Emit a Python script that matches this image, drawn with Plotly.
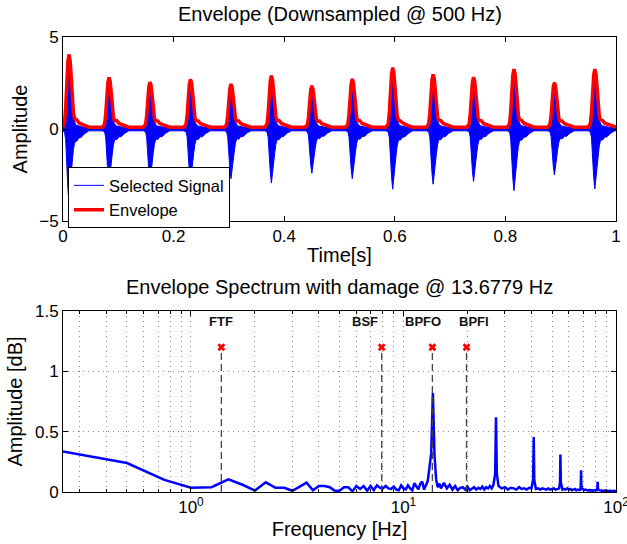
import numpy as np
import plotly.graph_objects as go

# ---------------- time-domain data ----------------
# impulse (burst) centres [s] and their amplitudes
burst_t = [0.0108, 0.0832, 0.1573, 0.2305, 0.3038, 0.3769, 0.4500,
           0.5231, 0.5962, 0.6693, 0.7424, 0.8155, 0.8886, 0.9617]
env_peak = [4.05, 2.80, 2.55, 2.70, 2.45, 2.90, 2.35,
            2.72, 3.33, 2.97, 2.82, 3.25, 2.52, 3.25]
sig_neg_peak = [-4.00, -3.00, -2.90, -2.90, -2.70, -2.93, -2.40,
                -2.70, -3.27, -3.00, -2.85, -3.35, -2.50, -3.26]

# burst profile around each impulse (time offset [s], relative level)
prof_t = [-0.012, -0.008, -0.006, -0.004, -0.002, 0.000, 0.002, 0.004, 0.006,
          0.008, 0.010, 0.012, 0.014, 0.018, 0.022, 0.028, 0.036]
env_frac = [0.00, 0.06, 0.26, 0.60, 0.90, 1.00, 0.92, 0.70, 0.40,
            0.18, 0.09, 0.05, 0.04, 0.03, 0.02, 0.01, 0.00]
env_tail = [0.00, 0.00, 0.00, 0.00, 0.00, 0.00, 0.00, 0.00, 0.00,
            0.05, 0.12, 0.20, 0.24, 0.12, 0.10, 0.05, 0.00]
up_frac = [0.00, 0.00, 0.10, 0.40, 0.80, 1.00, 0.80, 0.50, 0.25,
           0.12, 0.06, 0.04, 0.03, 0.02, 0.01, 0.00, 0.00]
down_frac = [0.00, 0.02, 0.12, 0.38, 0.80, 1.00, 0.85, 0.62, 0.42,
             0.26, 0.16, 0.11, 0.08, 0.06, 0.04, 0.02, 0.00]
down_tail = [0.00, 0.00, 0.00, 0.00, 0.00, 0.00, 0.00, 0.00, 0.00,
             0.00, 0.05, 0.15, 0.25, 0.15, 0.20, 0.08, 0.00]
env_floor = 0.10
sig_floor_up = 0.08
sig_floor_down = 0.10

# ---------------- envelope spectrum data ----------------
# 0.25 Hz bins from 0.25 to 15 Hz
low_amp = [0.335, 0.24, 0.10, 0.035, 0.04, 0.105, 0.06, 0.012, 0.08, 0.035,
           0.035, 0.01, 0.045, 0.078, 0.015, 0.05, 0.05, 0.04, 0.01, 0.01,
           0.04, 0.04, 0.005, 0.05, 0.025, 0.05, 0.01, 0.05, 0.015, 0.055,
           0.035, 0.03, 0.05, 0.03, 0.025, 0.045, 0.02, 0.015, 0.055, 0.03,
           0.022, 0.055, 0.03, 0.014, 0.072, 0.04, 0.022, 0.07, 0.086, 0.02,
           0.05, 0.09, 0.20, 0.32, 0.82, 0.30, 0.10, 0.04, 0.07, 0.03]
# 0.5 Hz steps from 15.5 to 26.5 Hz
mid_amp = [0.075, 0.03, 0.06, 0.02, 0.05, 0.015, 0.035, 0.04, 0.02, 0.045,
           0.015, 0.03, 0.04, 0.02, 0.035, 0.025, 0.045, 0.02, 0.04, 0.03,
           0.05, 0.03, 0.06]
# 1 Hz steps from 28 to 100 Hz
high_amp = [0.05, 0.03, 0.04, 0.02, 0.035, 0.03, 0.02, 0.04, 0.025, 0.03, 0.02, 0.035, 0.03,
            0.03, 0.025, 0.03, 0.02, 0.03, 0.025, 0.02, 0.03, 0.02, 0.025, 0.03, 0.02, 0.025,
            0.03, 0.04, 0.02, 0.025, 0.02, 0.03, 0.02, 0.025, 0.015, 0.02, 0.025, 0.015, 0.02,
            0.015, 0.02, 0.03, 0.02, 0.015, 0.02, 0.015, 0.012, 0.018, 0.012, 0.015, 0.01, 0.015,
            0.012, 0.015, 0.02, 0.015, 0.01, 0.012, 0.01, 0.012, 0.008, 0.01, 0.012, 0.008, 0.01,
            0.008, 0.01, 0.007, 0.009, 0.008, 0.01, 0.007, 0.008]
# BPFO harmonics (2x..6x)
harm_freq = [27.25, 41.0, 54.75, 68.5, 82.0]
harm_amp = [0.62, 0.455, 0.31, 0.18, 0.085]
harm_base = [0.15, 0.10, 0.08, 0.05, 0.03]

# bearing defect frequencies [Hz]
fault_names = ["FTF", "BSF", "BPFO", "BPFI"]
fault_freq = [1.39, 7.9, 13.6779, 19.8]
fault_level = 1.2

# ---------------- build curves ----------------
prof_t_a = np.array(prof_t)
t_env, y_env, t_sig, y_up, y_dn = [0.0], [env_floor], [0.0], [sig_floor_up], [-sig_floor_down]
for tk, ep, npk in zip(burst_t, env_peak, sig_neg_peak):
    tt = np.clip(tk + prof_t_a, 0.0, 1.0)
    t_env += list(tt)
    y_env += list(env_floor + (ep - env_floor) * np.array(env_frac) + np.array(env_tail))
    t_sig += list(tt)
    y_up += list(sig_floor_up + (ep - sig_floor_up) * np.array(up_frac))
    y_dn += list(-(sig_floor_down + (abs(npk) - sig_floor_down) * np.array(down_frac)
                   + np.array(down_tail)))
t_env.append(1.0); y_env.append(env_floor)
t_sig.append(1.0); y_up.append(sig_floor_up); y_dn.append(-sig_floor_down)

poly_t = t_sig + t_sig[::-1]
poly_y = y_up + y_dn[::-1]

low_f = np.arange(1, len(low_amp) + 1) * 0.25
mid_f = 15.5 + np.arange(len(mid_amp)) * 0.5
high_f = 28.0 + np.arange(len(high_amp)) * 1.0
pts = list(zip(low_f, low_amp)) + list(zip(mid_f, mid_amp))
for f, a in zip(high_f, high_amp):
    if min(abs(f - h) for h in harm_freq) > 0.4:
        pts.append((f, a))
for h, a, b in zip(harm_freq, harm_amp, harm_base):
    pts += [(h - 0.25, b), (h, a), (h + 0.25, b)]
pts.sort()
spec_f = [p[0] for p in pts]
spec_a = [p[1] for p in pts]

# ---------------- figure ----------------
FONT = "Liberation Sans, Arial, Helvetica, sans-serif"
GRID = "#8a8a8a"
fig = go.Figure()

fig.add_trace(go.Scatter(x=poly_t, y=poly_y, mode="lines", fill="toself",
                         fillcolor="#0000ff", line=dict(color="#0000ff", width=1),
                         showlegend=False, hoverinfo="skip", xaxis="x", yaxis="y"))
fig.add_trace(go.Scatter(x=[None], y=[None], mode="lines", name="Selected Signal",
                         line=dict(color="#0000ff", width=1), xaxis="x", yaxis="y"))
fig.add_trace(go.Scatter(x=t_env, y=y_env, mode="lines", name="Envelope",
                         line=dict(color="#ff0000", width=3.5), xaxis="x", yaxis="y"))

# spectrum
fig.add_trace(go.Scatter(x=spec_f, y=spec_a, mode="lines", showlegend=False,
                         line=dict(color="#0000ff", width=2.5), xaxis="x2", yaxis="y2"))
vx, vy = [], []
for f in fault_freq:
    vx += [f, f, None]
    vy += [0, fault_level, None]
fig.add_trace(go.Scatter(x=vx, y=vy, mode="lines", showlegend=False,
                         line=dict(color="#444444", width=1.3, dash="7px,4px"),
                         xaxis="x2", yaxis="y2"))
fig.add_trace(go.Scatter(x=fault_freq, y=[fault_level] * len(fault_freq), mode="markers",
                         showlegend=False, marker=dict(symbol="x", size=7, color="#ff0000"),
                         xaxis="x2", yaxis="y2"))

label_shift = [0, -17, -9, 7]
for name, f, dx in zip(fault_names, fault_freq, label_shift):
    fig.add_annotation(x=np.log10(f), y=1.41, xref="x2", yref="y2", text="<b>%s</b>" % name,
                       showarrow=False, xshift=dx, xanchor="center", yanchor="middle",
                       font=dict(size=13, color="#111111"))

# titles
fig.add_annotation(x=0.5, y=1.0505, xref="paper", yref="paper", showarrow=False,
                   xanchor="center", yanchor="middle",
                   text="Envelope (Downsampled @ 500 Hz)", font=dict(size=20))
fig.add_annotation(x=0.5, y=0.4505, xref="paper", yref="paper", showarrow=False,
                   xanchor="center", yanchor="middle",
                   text="Envelope Spectrum with damage @ 13.6779 Hz", font=dict(size=20))

axis_common = dict(showline=True, linecolor="black", linewidth=1, mirror="ticks",
                   ticks="inside", ticklen=5, tickcolor="black", zeroline=False,
                   automargin=False, tickfont=dict(size=17, color="black"))

fig.update_layout(
    width=627, height=544,
    margin=dict(l=63, r=11, t=37, b=52, autoexpand=False),
    paper_bgcolor="white", plot_bgcolor="white",
    font=dict(family=FONT, color="black"),
    showlegend=True,
    legend=dict(x=0.009, y=0.714, xanchor="left", yanchor="top",
                bgcolor="white", bordercolor="black", borderwidth=1,
                font=dict(size=16.5), tracegroupgap=0),
    xaxis=dict(domain=[0, 1], anchor="y", range=[0, 1],
               tickvals=[0, 0.2, 0.4, 0.6, 0.8, 1], ticktext=["0", "0.2", "0.4", "0.6", "0.8", "1"],
               showgrid=False,
               title=dict(text="Time[s]", font=dict(size=20), standoff=2), **axis_common),
    yaxis=dict(domain=[0.5956, 1], anchor="x", range=[-5, 5],
               tickvals=[-5, 0, 5], ticktext=["\u22125", "0", "5"], showgrid=False,
               title=dict(text="Amplitude", font=dict(size=20), standoff=6), **axis_common),
    xaxis2=dict(domain=[0, 1], anchor="y2", type="log", range=[np.log10(0.25), 2],
                tickvals=[1, 10, 100],
                ticktext=["10<sup>0</sup>", "10<sup>1</sup>", "10<sup>2</sup>"],
                ticklabeloverflow="allow",
                showgrid=True, gridcolor=GRID, griddash="1px,4px", gridwidth=1,
                minor=dict(tickvals=[0.3, 0.4, 0.5, 0.6, 0.7, 0.8, 0.9,
                                     2, 3, 4, 5, 6, 7, 8, 9,
                                     20, 30, 40, 50, 60, 70, 80, 90],
                           ticks="inside", ticklen=3, tickcolor="black",
                           showgrid=True, gridcolor=GRID, griddash="1px,4px", gridwidth=1),
                title=dict(text="Frequency [Hz]", font=dict(size=20), standoff=5), **axis_common),
    yaxis2=dict(domain=[0, 0.3978], anchor="x2", range=[0, 1.5],
                tickvals=[0, 0.5, 1, 1.5], ticktext=["0", "0.5", "1", "1.5"],
                showgrid=True, gridcolor=GRID, griddash="1px,4px", gridwidth=1,
                title=dict(text="Amplitude [dB]", font=dict(size=20), standoff=6), **axis_common),
)

fig.write_html("out.html")
